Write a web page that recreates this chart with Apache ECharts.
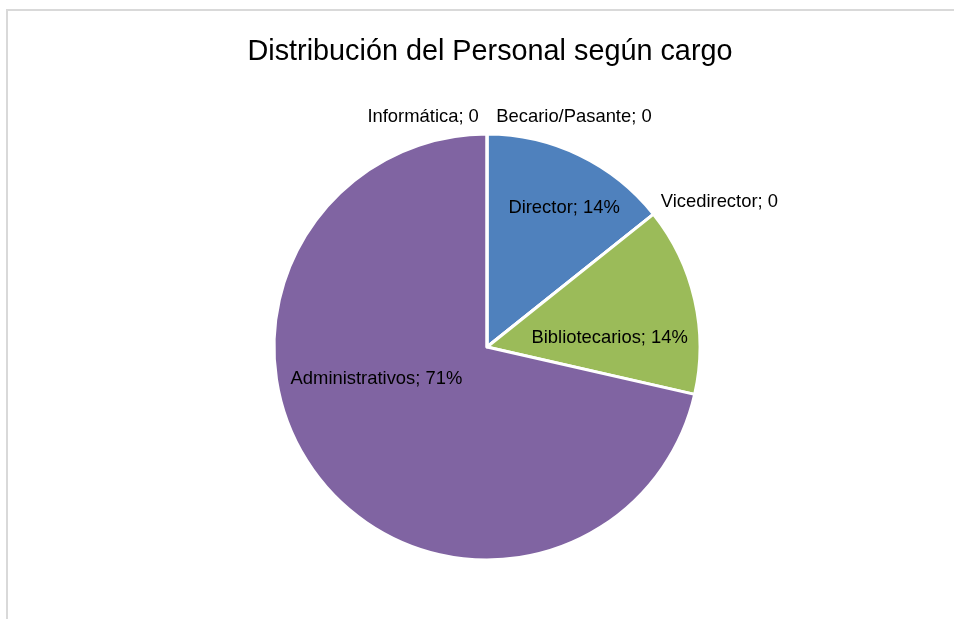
<!DOCTYPE html>
<html>
<head>
<meta charset="utf-8">
<script src="https://cdn.jsdelivr.net/npm/echarts@6/dist/echarts.min.js"></script>
<style>
  html, body { margin: 0; padding: 0; background: #fff; }
  #chart { width: 954px; height: 619px; }
</style>
</head>
<body>
<div id="chart"></div>
<script>
// Staff by position (head count)
const categories = ['Becario/Pasante', 'Director', 'Vicedirector', 'Bibliotecarios', 'Administrativos', 'Informática'];
const counts = [0, 1, 0, 1, 5, 0];
const sliceColors = ['#F79646', '#4F81BD', '#C0504D', '#9BBB59', '#8064A2', '#4BACC6'];

const titleText = 'Distribución del Personal según cargo';
const fontFamily = "'Liberation Sans', Arial, sans-serif";

const total = counts.reduce((a, b) => a + b, 0);

// Where each label sits: [angle in degrees clockwise from 12 o'clock, distance from centre]
const labelPolar = {
  'Informática': [-15.5, 239],
  'Becario/Pasante': [20.7, 246],
  'Vicedirector': [58, 274],
  'Director': [29, 159],
  'Bibliotecarios': [85.8, 123],
  'Administrativos': [254, 115]
};

const W = 954, H = 619;
const cx = 487, cy = 347, radius = 213;

const chart = echarts.init(document.getElementById('chart'), null, { renderer: 'canvas' });

chart.setOption({
  backgroundColor: '#ffffff',
  animation: false,
  title: {
    text: titleText,
    left: 485,
    textAlign: 'center',
    top: 33,
    textStyle: { fontFamily, fontSize: 28.8, fontWeight: 'normal', color: '#000' }
  },
  graphic: [
    { type: 'line', shape: { x1: 7, y1: 10, x2: 7, y2: H }, style: { stroke: '#d9d9d9', lineWidth: 2 } },
    { type: 'line', shape: { x1: 6, y1: 10, x2: W, y2: 10 }, style: { stroke: '#d9d9d9', lineWidth: 2 } }
  ],
  series: [{
    type: 'pie',
    center: [cx, cy],
    radius: [0, radius],
    startAngle: 90,
    clockwise: true,
    minShowLabelAngle: 0,
    avoidLabelOverlap: false,
    data: categories.map((name, i) => ({
      name,
      value: counts[i],
      itemStyle: { color: sliceColors[i] }
    })),
    itemStyle: { borderColor: '#ffffff', borderWidth: 3 },
    label: {
      show: true,
      position: 'inside',
      fontFamily,
      fontSize: 18.4,
      color: '#000',
      formatter: (p) => p.value === 0
        ? p.name + '; 0'
        : p.name + '; ' + Math.round(p.value / total * 100) + '%'
    },
    labelLine: { show: false },
    emphasis: { disabled: true },
    labelLayout: (params) => {
      const name = categories[params.dataIndex];
      const pol = labelPolar[name];
      const a = pol[0] * Math.PI / 180;
      return {
        x: cx + pol[1] * Math.sin(a),
        y: cy - pol[1] * Math.cos(a),
        align: 'center',
        verticalAlign: 'middle'
      };
    }
  }]
});
</script>
</body>
</html>
